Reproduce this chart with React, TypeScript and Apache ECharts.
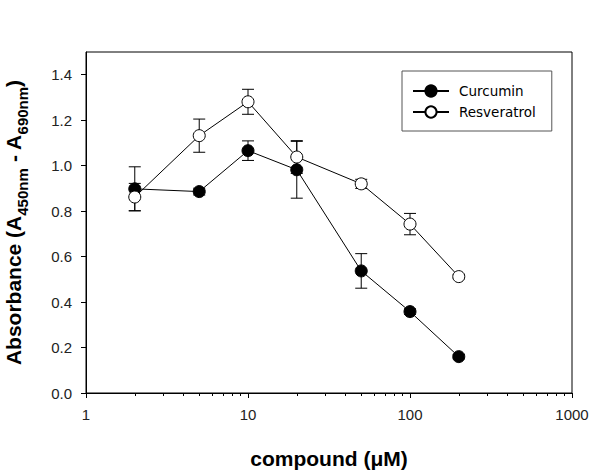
import React, { useEffect, useRef } from "react";
import * as echarts from "echarts";

const concentrations = [2, 5, 10, 20, 50, 100, 200];
const curcumin = [0.898, 0.886, 1.066, 0.982, 0.537, 0.358, 0.16];
const curcuminErr = [0.097, 0.015, 0.043, 0.125, 0.076, 0.012, 0.01];
const resveratrol = [0.862, 1.132, 1.281, 1.038, 0.92, 0.743, 0.512];
const resveratrolErr = [0.06, 0.073, 0.055, 0.072, 0.02, 0.047, 0.01];
const yTicks = [0, 0.2, 0.4, 0.6, 0.8, 1.0, 1.2, 1.4];

const AXIS_FONT = 'Arial, "Liberation Sans", sans-serif';

function errorData(vals: number[], errs: number[]) {
  return concentrations.map((c, i) => [c, vals[i] - errs[i], vals[i] + errs[i]]);
}

function errorRenderItem(params: any, api: any) {
  const x = api.value(0);
  const lo = api.coord([x, api.value(1)]);
  const hi = api.coord([x, api.value(2)]);
  const hw = 6;
  const style = { stroke: "#000", lineWidth: 1 };
  return {
    type: "group",
    children: [
      { type: "line", shape: { x1: lo[0], y1: lo[1], x2: hi[0], y2: hi[1] }, style },
      { type: "line", shape: { x1: lo[0] - hw, y1: lo[1], x2: lo[0] + hw, y2: lo[1] }, style },
      { type: "line", shape: { x1: hi[0] - hw, y1: hi[1], x2: hi[0] + hw, y2: hi[1] }, style },
    ],
  };
}

export default function App() {
  const ref = useRef<HTMLDivElement>(null);
  useEffect(() => {
    if (!ref.current) return;
    const chart = echarts.init(ref.current, null, { renderer: "svg" });
    chart.setOption({
      animation: false,
      backgroundColor: "#fff",
      grid: {
        left: 86,
        right: 28,
        top: 52,
        bottom: 77,
        show: true,
        borderColor: "#000",
        borderWidth: 1,
        outerBoundsMode: "none",
      },
      legend: {
        data: ["Curcumin", "Resveratrol"],
        orient: "vertical",
        left: 402,
        top: 71,
        borderColor: "#555",
        borderWidth: 1,
        padding: [13, 16, 12, 10],
        itemWidth: 36,
        itemHeight: 14,
        itemGap: 7,
        selectedMode: false,
        textStyle: {
          fontFamily: '"DejaVu Sans", sans-serif',
          fontSize: 13.5,
          color: "#000",
          padding: [0, 0, 0, 5],
        },
      },
      xAxis: {
        type: "log",
        logBase: 10,
        min: 1,
        max: 1000,
        name: "compound (μM)",
        nameLocation: "middle",
        nameGap: 55,
        nameTextStyle: {
          fontFamily: AXIS_FONT,
          fontSize: 21,
          fontWeight: "bold",
          color: "#000",
        },
        axisLine: { show: true, lineStyle: { color: "#000", width: 1 } },
        axisTick: { show: true, length: 5, lineStyle: { color: "#000" } },
        minorTick: { show: true, splitNumber: 9, length: 3, lineStyle: { color: "#000", width: 1 } },
        axisLabel: {
          fontFamily: AXIS_FONT,
          fontSize: 15,
          color: "#222",
          margin: 14,
          formatter: (v: number) => String(Math.round(v)),
        },
        splitLine: { show: false },
      },
      yAxis: {
        type: "value",
        min: 0,
        max: 1.5,
        interval: 0.2,
        name: "{b|Absorbance (A}{s|450nm}{b| - A}{s|690nm}{b|)}",
        nameLocation: "middle",
        nameRotate: 90,
        nameGap: 58,
        nameTextStyle: {
          fontFamily: AXIS_FONT,
          fontWeight: "bold",
          color: "#000",
          rich: {
            b: {
              fontFamily: AXIS_FONT,
              fontSize: 21,
              fontWeight: "bold",
              color: "#000",
              lineHeight: 25,
              verticalAlign: "top",
            },
            s: {
              fontFamily: AXIS_FONT,
              fontSize: 15,
              fontWeight: "bold",
              color: "#000",
              lineHeight: 17,
              padding: [12, 0, 0, 0],
              verticalAlign: "top",
            },
          },
        },
        axisLine: { show: true, lineStyle: { color: "#000", width: 1 } },
        axisTick: { show: true, length: 5, lineStyle: { color: "#000" }, customValues: yTicks },
        axisLabel: {
          fontFamily: AXIS_FONT,
          fontSize: 15,
          color: "#222",
          margin: 14,
          customValues: yTicks,
          formatter: (v: number) => v.toFixed(1),
        },
        splitLine: { show: false },
      },
      series: [
        {
          name: "curcuminErr",
          type: "custom",
          renderItem: errorRenderItem,
          data: errorData(curcumin, curcuminErr),
          encode: { x: 0, y: [1, 2] },
          silent: true,
          z: 1,
        },
        {
          name: "resveratrolErr",
          type: "custom",
          renderItem: errorRenderItem,
          data: errorData(resveratrol, resveratrolErr),
          encode: { x: 0, y: [1, 2] },
          silent: true,
          z: 1,
        },
        {
          name: "Curcumin",
          type: "line",
          data: concentrations.map((c, i) => [c, curcumin[i]]),
          symbol: "circle",
          symbolSize: 12,
          lineStyle: { color: "#000", width: 1 },
          itemStyle: { color: "#000", borderColor: "#000", borderWidth: 1 },
          z: 3,
        },
        {
          name: "Resveratrol",
          type: "line",
          data: concentrations.map((c, i) => [c, resveratrol[i]]),
          symbol: "circle",
          symbolSize: 12,
          lineStyle: { color: "#000", width: 1 },
          itemStyle: { color: "#fff", borderColor: "#000", borderWidth: 1 },
          z: 3,
        },
      ],
    });
    return () => chart.dispose();
  }, []);
  return (
    <div
      ref={ref}
      style={{ position: "absolute", left: 0, top: 0, width: 600, height: 470, background: "#fff" }}
    />
  );
}
